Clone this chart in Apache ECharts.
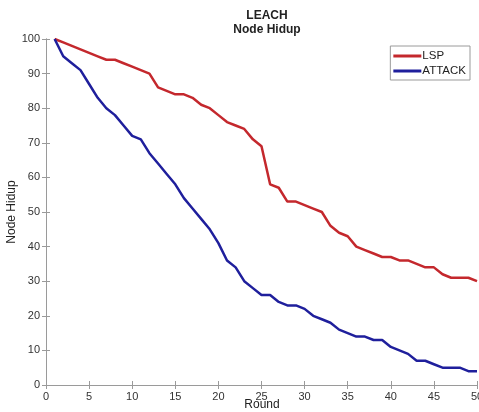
<!DOCTYPE html>
<html lang="en">
<head>
<meta charset="UTF-8">
<title>LEACH Node Hidup</title>
<script src="https://cdn.jsdelivr.net/npm/echarts@6/dist/echarts.min.js"></script>
<style>
  html, body { margin: 0; padding: 0; background: #fff; }
  #main { width: 479px; height: 412px; }
</style>
</head>
<body>
<div id="main"></div>
<script type="text/javascript">
// rounds 1..50
var rounds = []
for (var i = 1; i <= 50; i++) rounds.push(i)

var lsp = [100, 99, 98, 97, 96, 95, 94, 94, 93, 92,
           91, 90, 86, 85, 84, 84, 83, 81, 80, 78,
           76, 75, 74, 71, 69, 58, 57, 53, 53, 52,
           51, 50, 46, 44, 43, 40, 39, 38, 37, 37,
           36, 36, 35, 34, 34, 32, 31, 31, 31, 30]

var attack = [100, 95, 93, 91, 87, 83, 80, 78, 75, 72,
              71, 67, 64, 61, 58, 54, 51, 48, 45, 41,
              36, 34, 30, 28, 26, 26, 24, 23, 23, 22,
              20, 19, 18, 16, 15, 14, 14, 13, 13, 11,
              10, 9, 7, 7, 6, 5, 5, 5, 4, 4]

var seriesNames = ['LSP', 'ATTACK']
var xName = 'Round'
var yName = 'Node Hidup'

function pairs (ys) {
    return ys.map(function (y, i) { return [rounds[i], y] })
}

var font = 'Liberation Sans, Arial, Helvetica, sans-serif'
var axisGray = '#9a9a9a'

var chart = echarts.init(document.getElementById('main'))

var option = {
    backgroundColor: '#fff',
    animation: false,
    title: {
        text: 'LEACH\nNode Hidup',
        left: 262,
        top: 4,
        textAlign: 'center',
        textStyle: { fontFamily: font, fontSize: 12, fontWeight: 'bold', color: '#222', lineHeight: 14 }
    },
    // axis titles placed by hand (v6 keeps pushing the built-in names off the edge)
    graphic: [{
        type: 'text', x: 262, y: 399,
        style: { text: xName, font: '12px ' + font, fill: '#222', textAlign: 'center' }
    }, {
        type: 'text', x: 6, y: 212, rotation: Math.PI / 2,
        style: { text: yName, font: '12px ' + font, fill: '#222', textAlign: 'center', textVerticalAlign: 'top' }
    }],
    legend: {
        orient: 'vertical',
        right: 9,
        top: 46,
        data: seriesNames,
        icon: 'rect',
        itemWidth: 28,
        itemHeight: 3,
        itemGap: 3,
        padding: [4, 4, 3, 3],
        borderColor: axisGray,
        borderWidth: 1,
        backgroundColor: '#fff',
        textStyle: { fontFamily: font, fontSize: 11.5, color: '#222', padding: [0, 0, 0, -4] }
    },
    grid: { left: 46, right: 2, top: 39, bottom: 27, containLabel: false, outerBoundsMode: 'none' },
    xAxis: [{
        type: 'value', min: 0, max: 50, interval: 5,
        axisLine: { lineStyle: { color: axisGray } },
        axisTick: { inside: true, length: 4, lineStyle: { color: axisGray } },
        axisLabel: { fontFamily: font, fontSize: 11, color: '#333', margin: 6 },
        splitLine: { show: false }
    }, {
        type: 'value', min: 0, max: 50, interval: 5, position: 'top',
        axisLine: { lineStyle: { color: axisGray } },
        axisTick: { inside: true, length: 4, lineStyle: { color: axisGray } },
        axisLabel: { show: false },
        splitLine: { show: false }
    }],
    yAxis: [{
        type: 'value', min: 0, max: 100, interval: 10,
        axisLine: { show: true, lineStyle: { color: axisGray } },
        axisTick: { show: true, inside: true, length: 4, lineStyle: { color: axisGray } },
        axisLabel: { fontFamily: font, fontSize: 11, color: '#333', margin: 6 },
        splitLine: { show: false }
    }, {
        type: 'value', min: 0, max: 100, interval: 10, position: 'right',
        axisLine: { show: true, lineStyle: { color: axisGray } },
        axisTick: { show: true, inside: true, length: 4, lineStyle: { color: axisGray } },
        axisLabel: { show: false },
        splitLine: { show: false }
    }],
    series: [{
        name: seriesNames[0],
        type: 'line',
        data: pairs(lsp),
        showSymbol: false,
        itemStyle: { color: '#c4282d' },
        lineStyle: { color: '#c4282d', width: 2.5 }
    }, {
        name: seriesNames[1],
        type: 'line',
        data: pairs(attack),
        showSymbol: false,
        itemStyle: { color: '#1f1f9c' },
        lineStyle: { color: '#1f1f9c', width: 2.5 }
    }]
}

chart.setOption(option)
</script>
</body>
</html>
